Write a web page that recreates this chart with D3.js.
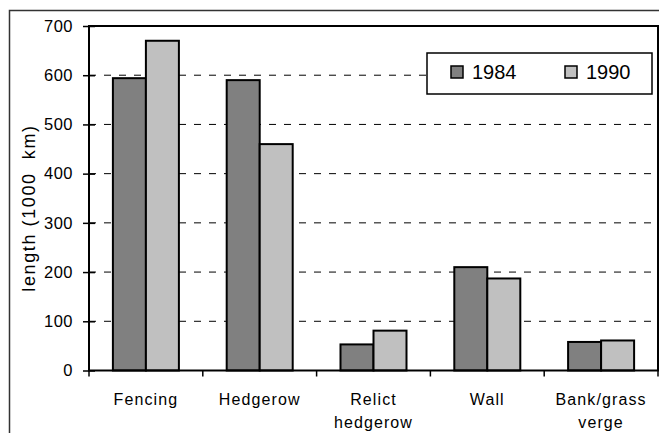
<!DOCTYPE html>
<html><head><meta charset="utf-8">
<script src="https://cdn.jsdelivr.net/npm/d3@7"></script>
<style>body{margin:0;background:#fff}svg{display:block;font-family:"Liberation Sans",Arial,sans-serif}</style>
</head><body>
<script>
const categories = [["Fencing"],["Hedgerow"],["Relict","hedgerow"],["Wall"],["Bank/grass","verge"]];
const series = ["1984","1990"];
const values1984 = [594, 590, 53, 210, 58];
const values1990 = [670, 460, 81, 187, 61];
const yTicks = [0,100,200,300,400,500,600,700];
const colors = ["#808080","#c0c0c0"];

const W=659,H=433;
const m={l:89,t:26,r:658,b:370.5};
const svg=d3.select("body").append("svg").attr("width",W).attr("height",H);

// outer frame
svg.append("rect").attr("x",9.5).attr("y",10.5).attr("width",W+20).attr("height",H+20)
  .attr("fill","none").attr("stroke","#333").attr("stroke-width",1.5);

const x=d3.scaleBand().domain(d3.range(categories.length)).range([m.l,m.r]);
const y=d3.scaleLinear().domain([0,700]).range([m.b,m.t]);
const groupW=x.bandwidth()*0.58, barW=groupW/2, off=(x.bandwidth()-groupW)/2;

// gridlines
svg.append("g").selectAll("line").data(yTicks.filter(d=>d>0&&d<700)).join("line")
  .attr("x1",m.l).attr("x2",m.r).attr("y1",d=>y(d)).attr("y2",d=>y(d))
  .attr("stroke","#000").attr("stroke-width",1).attr("stroke-dasharray","7,8");

// bars
const data=categories.map((c,i)=>[values1984[i],values1990[i]]);
const g=svg.append("g");
data.forEach((vals,i)=>{
  vals.forEach((v,j)=>{
    g.append("rect").attr("x",x(i)+off+j*barW).attr("y",y(v)).attr("width",barW).attr("height",y(0)-y(v))
      .attr("fill",colors[j]).attr("stroke","#000").attr("stroke-width",2);
  });
});

// plot frame
svg.append("rect").attr("x",m.l).attr("y",m.t).attr("width",m.r-m.l).attr("height",m.b-m.t)
  .attr("fill","none").attr("stroke","#000").attr("stroke-width",2);

// y axis
const ya=svg.append("g").attr("transform",`translate(${m.l},0)`).call(d3.axisLeft(y).tickValues(yTicks).tickSize(6).tickPadding(10));
ya.select(".domain").remove();
ya.selectAll(".tick line").attr("x1",-6).attr("x2",6).attr("stroke","#000").attr("stroke-width",1.5);
ya.selectAll(".tick text").attr("font-size",16.5).attr("letter-spacing","0.5px").attr("fill","#000").attr("font-family","Liberation Sans, Arial, sans-serif");

// x axis ticks
const xt=d3.range(categories.length+1).map(i=>m.l+i*x.bandwidth());
svg.append("g").selectAll("line").data(xt).join("line")
  .attr("x1",d=>d).attr("x2",d=>d).attr("y1",m.b).attr("y2",m.b+6).attr("stroke","#000").attr("stroke-width",1.5);

// x labels
const xl=svg.append("g");
categories.forEach((c,i)=>{
  const cx=x(i)+x.bandwidth()/2;
  const t=xl.append("text").attr("x",cx).attr("y",405).attr("text-anchor","middle")
    .attr("font-size",16).attr("letter-spacing","1.1px").attr("fill","#000");
  c.forEach((line,k)=>t.append("tspan").attr("x",cx).attr("dy",k?23:0).text(line));
});

// y label
svg.append("text").attr("transform",`translate(35,208) rotate(-90)`).attr("text-anchor","middle")
  .attr("font-size",18).attr("letter-spacing","1.6px").attr("fill","#000").style("white-space","pre").text("length (1000  km)");

// legend
const lg=svg.append("g");
lg.append("rect").attr("x",427).attr("y",53).attr("width",225).attr("height",41).attr("fill","#fff").attr("stroke","#000").attr("stroke-width",1.5);
const lx=[451,565];
series.forEach((s,j)=>{
  lg.append("rect").attr("x",lx[j]).attr("y",66).attr("width",12).attr("height",12).attr("fill",colors[j]).attr("stroke","#000").attr("stroke-width",1.5);
  lg.append("text").attr("x",lx[j]+21).attr("y",79).attr("font-size",20).attr("fill","#000").text(s);
});
</script>
</body></html>
